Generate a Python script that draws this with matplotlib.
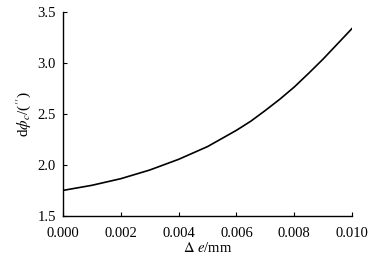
import matplotlib
matplotlib.use("Agg")
import matplotlib.pyplot as plt

delta_e = [0.000, 0.001, 0.002, 0.003, 0.004, 0.005, 0.006, 0.0065, 0.007, 0.0075,
           0.008, 0.0085, 0.009, 0.0095, 0.010]
d_phi = [1.75, 1.80, 1.865, 1.95, 2.055, 2.18, 2.34, 2.43, 2.535, 2.645,
         2.765, 2.90, 3.04, 3.19, 3.34]
x_ticks = [0.000, 0.002, 0.004, 0.006, 0.008, 0.010]
y_ticks = [1.5, 2.0, 2.5, 3.0, 3.5]

plt.rcParams['font.family'] = ['Liberation Serif', 'DejaVu Serif']
plt.rcParams['mathtext.fontset'] = 'stix'

fig = plt.figure(figsize=(3.84, 2.57), dpi=100)
ax = fig.add_axes([0.164, 0.16, 0.753, 0.793])
ax.plot(delta_e, d_phi, color='black', linewidth=1.2)
ax.set_xlim(0.0, 0.010)
ax.set_ylim(1.5, 3.5)
ax.set_xticks(x_ticks)
ax.set_xticklabels([f"{v:.3f}" for v in x_ticks])
ax.set_yticks(y_ticks)
ax.set_yticklabels([f"{v:.1f}" for v in y_ticks])
for s in ['top', 'right']:
    ax.spines[s].set_visible(False)
for s in ['left', 'bottom']:
    ax.spines[s].set_linewidth(1.0)
ax.tick_params(direction='in', length=3, width=0.8, labelsize=10.5)
ax.tick_params(axis='x', pad=8)
ax.tick_params(axis='y', pad=5)
ax.set_xlabel(r'$\Delta$ $e$/mm', fontsize=10.5, labelpad=1)
ax.set_ylabel(r'd$\phi_c$/($^{\prime\prime}$)', fontsize=11, labelpad=3)
fig.savefig('out.png', dpi=100)
